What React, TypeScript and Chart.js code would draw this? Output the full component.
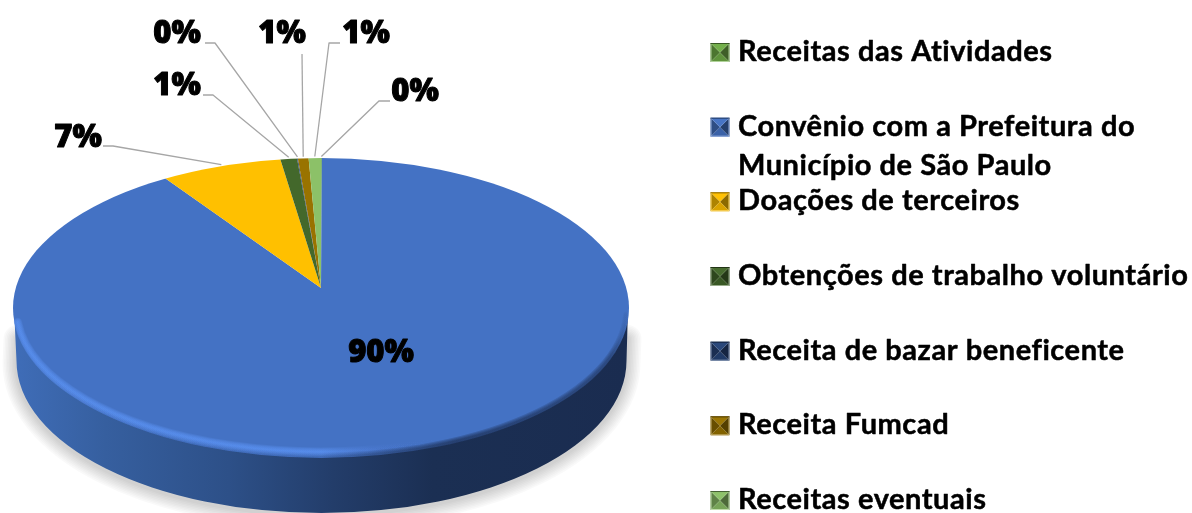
import React, { useEffect, useRef } from "react";
import { Chart, registerables } from "chart.js";

Chart.register(...registerables);

const categories: (string | string[])[] = [
  "Receitas das Atividades",
  ["Convênio com a Prefeitura do", "Município de São Paulo"],
  "Doações de terceiros",
  "Obtenções de trabalho voluntário",
  "Receita de bazar beneficente",
  "Receita Fumcad",
  "Receitas eventuais",
];
const shares = [0.05, 90.32, 7.2, 1.0, 0.05, 0.64, 0.74];
const colors = ["#70ad47", "#4472c4", "#ffc000", "#43682b", "#264478", "#997300", "#8cc168"];

// layout only: label centre, where its leader starts, and the leader's elbow
const labelLayout = [
  { x: 415, y: 92, ex: 390, ey: 101, hx: 379 },
  { x: 381, y: 353, ex: 0, ey: 0, hx: 0 },
  { x: 78, y: 138, ex: 103, ey: 146, hx: 113 },
  { x: 177, y: 86, ex: 203, ey: 95, hx: 213 },
  { x: 177, y: 34, ex: 205, ey: 43, hx: 215 },
  { x: 282, y: 34, ex: 302, ey: 54, hx: 302 },
  { x: 366, y: 34, ex: 340, ey: 43, hx: 329 },
];

const FACE = { cx: 321, cy: 308, rx: 308, ry: 150 };
const BASE = { cx: 321.5, cy: 361, rx: 305, ry: 152 };
const SQUASH = FACE.ry / FACE.rx;
const LABEL_FONT = '800 31px "Open Sans"';
const LEGEND_FONT = "bold 29px Lato";

function shade(hex: string, f: number) {
  const n = parseInt(hex.slice(1), 16);
  const c = [(n >> 16) & 255, (n >> 8) & 255, n & 255].map((v) =>
    Math.round(f < 1 ? v * f : v + (255 - v) * (f - 1))
  );
  return `rgb(${c[0]},${c[1]},${c[2]})`;
}

function softStroke(
  ctx: CanvasRenderingContext2D,
  path: () => void,
  style: string | CanvasGradient,
  widths: number[],
  alpha: number
) {
  ctx.save();
  ctx.strokeStyle = style;
  ctx.globalAlpha = alpha;
  ctx.lineCap = "round";
  widths.forEach((w) => {
    ctx.lineWidth = w;
    path();
    ctx.stroke();
  });
  ctx.restore();
}

const pie3d = {
  id: "pie3d",
  beforeDatasetsDraw(chart: any) {
    const { ctx } = chart;
    const arc = chart.getDatasetMeta(0).data[0];
    // soft drop shadow, layered strokes around the base
    softStroke(
      ctx,
      () => {
        ctx.beginPath();
        ctx.moveTo(BASE.cx - BASE.rx + 1, BASE.cy - 22);
        ctx.lineTo(BASE.cx - BASE.rx, BASE.cy + 2);
        ctx.ellipse(BASE.cx, BASE.cy + 2, BASE.rx, BASE.ry, 0, Math.PI, 0, true);
        ctx.lineTo(BASE.cx + BASE.rx + 1, BASE.cy - 22);
      },
      "#000",
      [4, 7, 10, 13, 16, 19, 22, 25, 28],
      0.024
    );
    // extruded wall
    ctx.save();
    const wall = ctx.createLinearGradient(FACE.cx - FACE.rx, 0, FACE.cx + FACE.rx, 0);
    wall.addColorStop(0, "#3f6db8");
    wall.addColorStop(0.15, "#365f9f");
    wall.addColorStop(0.35, "#2d5088");
    wall.addColorStop(0.52, "#233d6a");
    wall.addColorStop(0.68, "#1b2f53");
    wall.addColorStop(1, "#1a2c50");
    ctx.fillStyle = wall;
    ctx.beginPath();
    ctx.moveTo(FACE.cx - FACE.rx + 1, FACE.cy);
    ctx.lineTo(BASE.cx - BASE.rx, BASE.cy);
    ctx.ellipse(BASE.cx, BASE.cy, BASE.rx, BASE.ry, 0, Math.PI, 0, true);
    ctx.lineTo(FACE.cx + FACE.rx - 1, FACE.cy);
    ctx.closePath();
    ctx.fill();
    ctx.restore();
    // top face: library slices, flattened and trimmed to the rim
    ctx.save();
    ctx.beginPath();
    ctx.ellipse(FACE.cx, FACE.cy, FACE.rx, FACE.ry, 0, 0, Math.PI * 2);
    ctx.clip();
    ctx.translate(arc.x, arc.y);
    ctx.scale(1, SQUASH);
    ctx.translate(-arc.x, -arc.y);
  },
  afterDatasetsDraw(chart: any) {
    const { ctx } = chart;
    ctx.restore();
    // rim bevel
    ctx.save();
    ctx.beginPath();
    ctx.ellipse(FACE.cx, FACE.cy, FACE.rx + 0.5, FACE.ry + 0.5, 0, 0, Math.PI * 2);
    ctx.clip();
    const rim = ctx.createLinearGradient(FACE.cx - FACE.rx, 0, FACE.cx + FACE.rx, 0);
    rim.addColorStop(0, "rgba(92,148,246,1)");
    rim.addColorStop(0.5, "rgba(92,148,246,1)");
    rim.addColorStop(0.6, "rgba(80,125,215,0.35)");
    rim.addColorStop(0.7, "rgba(68,114,196,0)");
    rim.addColorStop(1, "rgba(68,114,196,0)");
    softStroke(
      ctx,
      () => {
        ctx.beginPath();
        ctx.ellipse(FACE.cx, FACE.cy, FACE.rx - 3, FACE.ry - 6, 0, 0.3, Math.PI - 0.1);
      },
      rim,
      [9, 7.5, 6, 4.5, 3, 1.5],
      0.2
    );
    const dark = ctx.createLinearGradient(FACE.cx - FACE.rx, 0, FACE.cx + FACE.rx, 0);
    dark.addColorStop(0, "rgba(26,44,80,0)");
    dark.addColorStop(0.5, "rgba(26,44,80,0.1)");
    dark.addColorStop(0.72, "rgba(26,44,80,1)");
    dark.addColorStop(0.97, "rgba(26,44,80,0.7)");
    dark.addColorStop(1, "rgba(26,44,80,0)");
    softStroke(
      ctx,
      () => {
        ctx.beginPath();
        ctx.ellipse(FACE.cx, FACE.cy, FACE.rx - 1, FACE.ry - 1, 0, 0.05, Math.PI - 0.05);
      },
      dark,
      [9, 7, 5, 3],
      0.27
    );
    ctx.restore();
    drawLabels(chart);
    drawLegend(chart);
  },
};

function rimAnchor(apexX: number, apexY: number, angle: number) {
  const dx = Math.cos(angle);
  const dy = Math.sin(angle) * SQUASH;
  const ox = (apexX - FACE.cx) / FACE.rx;
  const oy = (apexY - FACE.cy) / FACE.ry;
  const ux = dx / FACE.rx;
  const uy = dy / FACE.ry;
  const a = ux * ux + uy * uy;
  const b = 2 * (ox * ux + oy * uy);
  const c = ox * ox + oy * oy - 1;
  const t = (-b + Math.sqrt(b * b - 4 * a * c)) / (2 * a);
  return { x: apexX + dx * t, y: apexY + dy * t - 1.5 };
}

function drawLabels(chart: any) {
  const { ctx } = chart;
  const values: number[] = chart.data.datasets[0].data;
  const total = values.reduce((s, v) => s + v, 0);
  const arcs = chart.getDatasetMeta(0).data;
  ctx.save();
  values.forEach((v, i) => {
    const pos = labelLayout[i];
    if (pos.ex) {
      const mid = (arcs[i].startAngle + arcs[i].endAngle) / 2;
      const end = rimAnchor(arcs[i].x, arcs[i].y, mid);
      ctx.strokeStyle = "#a6a6a6";
      ctx.lineWidth = 1.3;
      ctx.beginPath();
      ctx.moveTo(pos.ex, pos.ey);
      ctx.lineTo(pos.hx, pos.ey);
      ctx.lineTo(end.x, end.y);
      ctx.stroke();
    }
    const text = `${Math.round((v / total) * 100)}%`;
    ctx.font = LABEL_FONT;
    ctx.fillStyle = "#000";
    ctx.strokeStyle = "#000";
    ctx.lineWidth = 1;
    ctx.lineJoin = "round";
    ctx.textAlign = "center";
    ctx.textBaseline = "middle";
    ctx.fillText(text, pos.x, pos.y);
    ctx.strokeText(text, pos.x, pos.y);
  });
  ctx.restore();
}

function drawLegend(chart: any) {
  const { ctx } = chart;
  const labels: (string | string[])[] = chart.data.labels;
  const fills: string[] = chart.data.datasets[0].backgroundColor;
  const left = 710.5;
  const size = 19;
  const textX = 738;
  const firstBase = 61;
  const step = 74.67;
  const lineGap = 39;
  ctx.save();
  labels.forEach((label, i) => {
    const base = firstBase + step * i;
    const x0 = left;
    const y0 = base - size + 1;
    const cx = x0 + size / 2;
    const cy = y0 + size / 2;
    const tri = (ax: number, ay: number, bx: number, by: number, fill: string) => {
      ctx.fillStyle = fill;
      ctx.beginPath();
      ctx.moveTo(ax, ay);
      ctx.lineTo(bx, by);
      ctx.lineTo(cx, cy);
      ctx.closePath();
      ctx.fill();
    };
    tri(x0, y0, x0, y0 + size, shade(fills[i], 0.68));
    tri(x0 + size, y0, x0 + size, y0 + size, shade(fills[i], 0.55));
    tri(x0, y0 + size, x0 + size, y0 + size, shade(fills[i], 0.85));
    tri(x0, y0, x0 + size, y0, shade(fills[i], 1.02));
    ctx.strokeStyle = shade(fills[i], 0.5);
    ctx.lineWidth = 1;
    ctx.beginPath();
    ctx.moveTo(x0, y0 + 0.5);
    ctx.lineTo(x0 + size, y0 + 0.5);
    ctx.stroke();
    ctx.strokeStyle = shade(fills[i], 1.45);
    ctx.beginPath();
    ctx.moveTo(x0 + 0.5, y0 + 1);
    ctx.lineTo(x0 + 0.5, y0 + size - 0.5);
    ctx.lineTo(x0 + size - 0.5, y0 + size - 0.5);
    ctx.lineTo(x0 + size - 0.5, y0 + 1);
    ctx.stroke();
    const lines = Array.isArray(label) ? label : [label];
    ctx.font = LEGEND_FONT;
    (ctx as any).letterSpacing = "0.55px";
    ctx.fillStyle = "#000";
    ctx.strokeStyle = "#000";
    ctx.lineWidth = 0.5;
    ctx.lineJoin = "round";
    ctx.textAlign = "left";
    ctx.textBaseline = "alphabetic";
    lines.forEach((line, j) => {
      ctx.fillText(line, textX, base + j * lineGap);
      ctx.strokeText(line, textX, base + j * lineGap);
    });
    (ctx as any).letterSpacing = "0px";
  });
  ctx.restore();
}

export default function App() {
  const ref = useRef<HTMLCanvasElement>(null);
  useEffect(() => {
    document.body.style.margin = "0";
    const chart = new Chart(ref.current!, {
      type: "pie",
      data: {
        labels: categories as any,
        datasets: [
          { data: shares, backgroundColor: colors, borderWidth: 0, clip: false as any },
        ],
      },
      options: {
        animation: false,
        responsive: false,
        radius: 365,
        layout: { padding: { left: 0, right: 550, top: 63, bottom: 0 } },
        plugins: { legend: { display: false }, tooltip: { enabled: false } },
      } as any,
      plugins: [pie3d],
    });
    return () => chart.destroy();
  }, []);
  return (
    <canvas
      ref={ref}
      width={1192}
      height={513}
      style={{ display: "block", width: 1192, height: 513 }}
    />
  );
}
